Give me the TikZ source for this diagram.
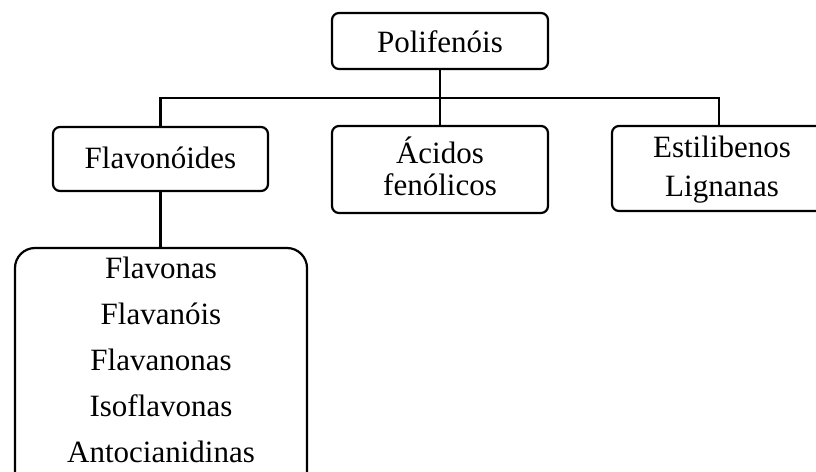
\documentclass[tikz,border=0pt]{standalone}
\usepackage{fontspec}
\setmainfont{Liberation Serif}
\begin{document}
\begin{tikzpicture}[x=1pt,y=-1pt,
  box/.style={draw, line width=2.2pt, rounded corners=7pt, inner sep=0pt, anchor=center},
  bigbox/.style={draw, line width=2.2pt, rounded corners=20pt, inner sep=0pt, anchor=center},
  lbl/.style={anchor=base, inner sep=0pt, font=\fontsize{31pt}{38pt}\selectfont},
  conn/.style={line width=2.2pt, line join=miter}]
\useasboundingbox (0,0) rectangle (816,471);
\clip (0,0) rectangle (816,471);
% boxes
\node[box, minimum width=216pt, minimum height=56pt] (poli) at (440,41) {};
\node[box, minimum width=215pt, minimum height=64pt] (flav) at (160.5,159) {};
\node[box, minimum width=216pt, minimum height=87pt] (acid) at (440,169.5) {};
\node[box, minimum width=220pt, minimum height=85pt] (estil) at (722,168.5) {};
\node[bigbox, minimum width=292pt, minimum height=250pt] (sub) at (161,373) {};
% labels
\node[lbl] (tpoli) at (440,52) {Polifenóis};
\node[lbl] (tflav) at (160.5,168) {Flavonóides};
\node[lbl] (tacid1) at (440,163) {Ácidos};
\node[lbl] (tacid2) at (440,195) {fenólicos};
\node[lbl] (testil1) at (722,157) {Estilibenos};
\node[lbl] (testil2) at (722,196) {Lignanas};
\node[lbl] (ts1) at (161,278) {Flavonas};
\node[lbl] (ts2) at (161,324) {Flavanóis};
\node[lbl] (ts3) at (161,370) {Flavanonas};
\node[lbl] (ts4) at (161,416) {Isoflavonas};
\node[lbl] (ts5) at (161,462) {Antocianidinas};
% connectors
\coordinate (j) at (440,98);
\draw[conn] (poli.south) -- (j);
\draw[conn] (flav.north) |- (j) -| (estil.north -| 719,0);
\draw[conn] (j) -- (acid.north);
\draw[conn] (flav.south) -- (sub.north -| flav.south);
\end{tikzpicture}
\end{document}
